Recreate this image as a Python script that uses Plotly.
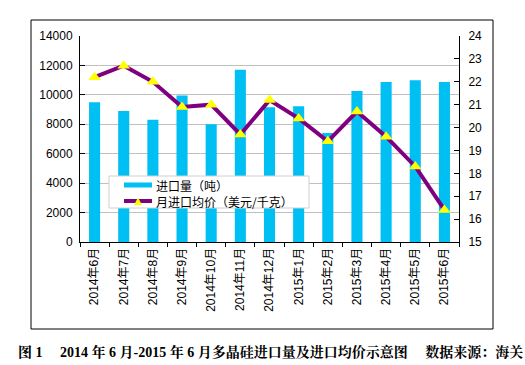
import plotly.graph_objects as go

categories = ["2014年6月", "2014年7月", "2014年8月", "2014年9月", "2014年10月", "2014年11月",
              "2014年12月", "2015年1月", "2015年2月", "2015年3月", "2015年4月", "2015年5月", "2015年6月"]
import_volume = [9500, 8900, 8300, 9950, 8000, 11700, 9150, 9220, 7400, 10270, 10880, 11000, 10880]
avg_price = [22.2, 22.7, 22.0, 20.9, 21.0, 19.7, 21.2, 20.4, 19.4, 20.7, 19.6, 18.3, 16.4]
left_ticks = [0, 2000, 4000, 6000, 8000, 10000, 12000, 14000]
right_ticks = [15, 16, 17, 18, 19, 20, 21, 22, 23, 24]
name_volume = "进口量（吨）"
name_price = "月进口均价（美元/千克）"
caption = "图 1\u2003 2014 年 6 月-2015 年 6 月多晶硅进口量及进口均价示意图\u2003 数据来源：海关"

BAR = "#00BFF2"
LINE = "#7F007F"
YEL = "#FFFF00"
TICKFONT = dict(family="Liberation Sans, Noto Sans CJK SC", size=12, color="black")

fig = go.Figure()
fig.add_trace(go.Bar(x=categories, y=import_volume, marker=dict(color=BAR, line=dict(width=0)),
                     width=0.38, name=name_volume))
fig.add_trace(go.Scatter(x=categories, y=avg_price, yaxis="y2", mode="lines+markers",
                         line=dict(color=LINE, width=4),
                         marker=dict(symbol="triangle-up", size=11, color=YEL, line=dict(width=0)),
                         name=name_price))

W, H = 525, 365
L, R, T, B = 80, 459, 36, 242
pw, ph = R - L, B - T


def px(x):
    return (x - L) / pw


def py(y):
    return (B - y) / ph


# legend box (drawn by hand to match the compact original legend)
lg_x0, lg_x1, lg_y0, lg_y1 = 109, 309, 176, 208
row1, row2 = 185, 201
sym_x0, sym_x1, txt_x = 124, 152, 154
tri = "M {} {} L {} {} L {} {} Z".format(px(134), py(205), px(142), py(205), px(138), py(197.5))

shapes = [
    dict(type="rect", xref="paper", yref="paper", x0=px(31), x1=px(493), y0=py(329), y1=py(20),
         line=dict(color="black", width=1), fillcolor="rgba(0,0,0,0)", layer="below"),
    dict(type="rect", xref="paper", yref="paper", x0=px(lg_x0), x1=px(lg_x1), y0=py(lg_y1), y1=py(lg_y0),
         line=dict(color="#d0d0d0", width=1), fillcolor="white", layer="above"),
    dict(type="line", xref="paper", yref="paper", x0=px(sym_x0), x1=px(sym_x1), y0=py(row1), y1=py(row1),
         line=dict(color=BAR, width=5), layer="above"),
    dict(type="line", xref="paper", yref="paper", x0=px(sym_x0), x1=px(sym_x1), y0=py(row2), y1=py(row2),
         line=dict(color=LINE, width=4), layer="above"),
    dict(type="path", xref="paper", yref="paper", path=tri, fillcolor=YEL,
         line=dict(width=0), layer="above"),
]

LEGFONT = dict(family="Noto Sans CJK SC", size=12, color="black")
annotations = [
    dict(text=name_volume, xref="paper", yref="paper", x=px(txt_x), y=py(row1), xanchor="left",
         yanchor="middle", showarrow=False, font=LEGFONT),
    dict(text=name_price, xref="paper", yref="paper", x=px(txt_x), y=py(row2), xanchor="left",
         yanchor="middle", showarrow=False, font=LEGFONT),
    dict(text="<b>" + caption + "</b>", xref="paper", yref="paper",
         x=px(270), y=py(352), xanchor="center", yanchor="middle", showarrow=False,
         font=dict(family="Liberation Serif, Noto Serif CJK SC, Noto Sans CJK SC", size=14, color="black")),
]

fig.update_layout(
    width=W, height=H,
    margin=dict(l=L, r=W - R, t=T, b=H - B),
    paper_bgcolor="white", plot_bgcolor="white",
    showlegend=False,
    xaxis=dict(type="category", range=[-0.5, 12.5], tickangle=-90, tickfont=TICKFONT,
               showline=True, linecolor="black", linewidth=1, ticks="outside",
               tickson="boundaries", ticklen=4, tickcolor="black", showgrid=False),
    yaxis=dict(range=[0, 14000], tickvals=left_ticks, tickformat="d", tickfont=TICKFONT,
               showline=True, linecolor="black", linewidth=1, ticks="inside", ticklen=5,
               tickcolor="black", showgrid=True, gridcolor="#c0c0c0", gridwidth=1,
               zeroline=False, ticklabelstandoff=4),
    yaxis2=dict(range=[15, 24], tickvals=right_ticks, tickfont=TICKFONT, overlaying="y",
                side="right", showline=True, linecolor="black", linewidth=1, ticks="inside",
                ticklen=5, tickcolor="black", showgrid=False, zeroline=False,
                ticklabelstandoff=6),
    shapes=shapes,
    annotations=annotations,
)

fig.write_html("out.html", config={"displayModeBar": False},
               post_script="document.body.style.margin='0';")
